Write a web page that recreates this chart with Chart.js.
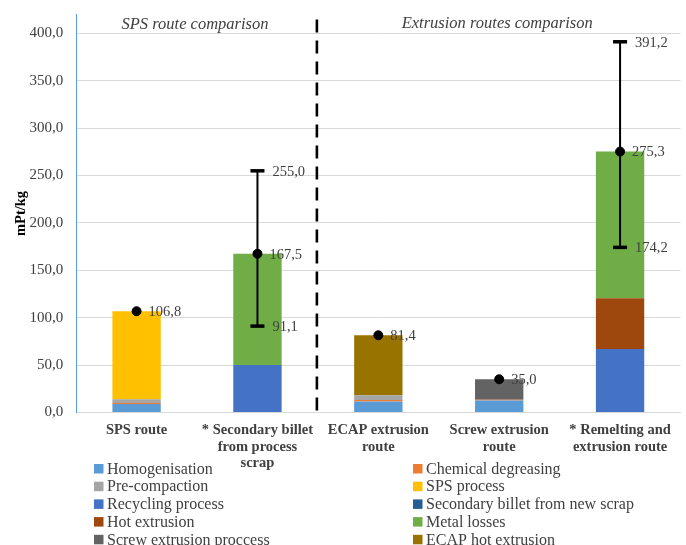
<!DOCTYPE html>
<html>
<head>
<meta charset="utf-8">
<script src="https://cdn.jsdelivr.net/npm/chart.js@4.4.1/dist/chart.umd.min.js"></script>
<style>
  html, body { margin: 0; padding: 0; background: #fff; }
  #wrap { position: relative; width: 686px; height: 545px; }
</style>
</head>
<body>
<div id="wrap"><canvas id="impactChart"></canvas></div>
<script>
// categories (multi-line axis labels)
const routes = [
  ['SPS route'],
  ['* Secondary billet', 'from process', 'scrap'],
  ['ECAP extrusion', 'route'],
  ['Screw extrusion', 'route'],
  ['* Remelting and', 'extrusion route']
];

// stacked contributions per route, mPt/kg
const homogenisation     = [8.8, null, 11.6, 12.5, null];
const chemicalDegreasing = [1.2, null, 1.5, 0.8, null];
const preCompaction      = [4.0, null, 5.0, null, null];
const spsProcess         = [92.8, null, null, null, null];
const recyclingProcess   = [null, 50.0, null, null, 67.0];
const billetNewScrap     = [null, null, null, null, null];
const hotExtrusion       = [null, null, null, null, 53.6];
const metalLosses        = [null, 117.5, null, null, 154.7];
const screwExtrusion     = [null, null, null, 21.7, null];
const ecapHotExtrusion   = [null, null, 63.3, null, null];

// totals and ranges
const totals  = [106.8, 167.5, 81.4, 35.0, 275.3];
const errLow  = [null, 91.1, null, null, 174.2];
const errHigh = [null, 255.0, null, null, 391.2];

const stages = ['Homogenisation', 'Chemical degreasing', 'Pre-compaction', 'SPS process',
  'Recycling process', 'Secondary billet from new scrap', 'Hot extrusion', 'Metal losses',
  'Screw extrusion proccess', 'ECAP hot extrusion'];
const stageValues = [homogenisation, chemicalDegreasing, preCompaction, spsProcess,
  recyclingProcess, billetNewScrap, hotExtrusion, metalLosses, screwExtrusion, ecapHotExtrusion];
const stageColors = ['#5B9BD5', '#ED7D31', '#A5A5A5', '#FFC000', '#4472C4',
  '#255E91', '#9E480E', '#70AD47', '#636363', '#997300'];

const sectionTitles = ['SPS route comparison', 'Extrusion routes comparison'];

const yMax = 420;
const yStep = 50;

const FONT = "'Liberation Serif', 'Times New Roman', serif";
const TEXT = '#404040';

const fmt = v => v.toFixed(1).replace('.', ',');

// Divider, error bars, value labels, section titles, legend
const overlay = {
  id: 'overlay',
  afterDatasetsDraw(chart) {
    const { ctx, chartArea, scales: { x, y } } = chart;
    ctx.save();

    // dashed divider between the two comparisons
    const xDiv = (x.getPixelForValue(1) + x.getPixelForValue(2)) / 2 - 1;
    ctx.strokeStyle = '#000';
    ctx.lineWidth = 2.6;
    ctx.setLineDash([13, 8]);
    ctx.beginPath();
    ctx.moveTo(xDiv, chartArea.top + 5);
    ctx.lineTo(xDiv, chartArea.bottom + 3);
    ctx.stroke();
    ctx.setLineDash([]);

    ctx.font = `14.5px ${FONT}`;
    ctx.textBaseline = 'middle';
    ctx.textAlign = 'left';

    // error bars
    errLow.forEach((lo, i) => {
      if (lo == null) return;
      const cx = x.getPixelForValue(i);
      const yLo = y.getPixelForValue(lo);
      const yHi = y.getPixelForValue(errHigh[i]);
      ctx.strokeStyle = '#000';
      ctx.lineWidth = 2;
      ctx.beginPath();
      ctx.moveTo(cx, yLo);
      ctx.lineTo(cx, yHi);
      ctx.stroke();
      ctx.lineWidth = 3.5;
      [yLo, yHi].forEach(py => {
        ctx.beginPath();
        ctx.moveTo(cx - 7, py);
        ctx.lineTo(cx + 7, py);
        ctx.stroke();
      });
      ctx.fillStyle = TEXT;
      ctx.fillText(fmt(lo), cx + 15, yLo + 1);
      ctx.fillText(fmt(errHigh[i]), cx + 15, yHi + 1);
    });

    // total labels
    const meta = chart.getDatasetMeta(stages.length);
    ctx.fillStyle = TEXT;
    totals.forEach((v, i) => {
      const pt = meta.data[i];
      ctx.fillText(fmt(v), pt.x + 12, pt.y + 1);
    });

    // section titles
    ctx.font = `italic 16.5px ${FONT}`;
    ctx.textAlign = 'center';
    const left = (x.getPixelForValue(0) + x.getPixelForValue(1)) / 2 - 2;
    const right = x.getPixelForValue(3) - 2;
    ctx.fillText(sectionTitles[0], left, chartArea.top + 10);
    ctx.fillText(sectionTitles[1], right, chartArea.top + 9);

    ctx.restore();
  },
  afterDraw(chart) {
    const { ctx } = chart;
    const cols = [94, 413];
    const rowTop = 468.5;
    const rowStep = 17.7;
    ctx.save();
    ctx.font = `16px ${FONT}`;
    ctx.textBaseline = 'middle';
    ctx.textAlign = 'left';
    stages.forEach((name, i) => {
      const bx = cols[i % 2];
      const by = rowTop + Math.floor(i / 2) * rowStep;
      ctx.fillStyle = stageColors[i];
      ctx.fillRect(bx, by - 4.5, 9.5, 9.5);
      ctx.fillStyle = TEXT;
      ctx.fillText(name, bx + 13, by + 1);
    });
    ctx.restore();
  }
};

const datasets = stages.map((name, i) => ({
  type: 'bar',
  label: name,
  data: stageValues[i],
  backgroundColor: stageColors[i],
  borderWidth: 0,
  stack: 'routes',
  categoryPercentage: 1,
  barPercentage: 0.4
}));

datasets.push({
  type: 'line',
  label: 'Total',
  data: totals,
  stack: 'total',
  showLine: false,
  pointRadius: 4.5,
  pointBackgroundColor: '#000',
  pointBorderColor: '#000',
  order: -1
});

new Chart(document.getElementById('impactChart'), {
  type: 'bar',
  data: { labels: routes, datasets },
  options: {
    responsive: true,
    maintainAspectRatio: false,
    animation: false,
    layout: { padding: { top: 7, right: 5, left: 13, bottom: 63 } },
    plugins: {
      legend: { display: false },
      tooltip: { enabled: false }
    },
    scales: {
      x: {
        stacked: true,
        grid: { drawOnChartArea: false, drawTicks: false },
        border: { color: '#d9d9d9' },
        ticks: {
          color: TEXT,
          padding: 10,
          maxRotation: 0,
          autoSkip: false,
          font: { family: FONT, size: 14.5, weight: 'bold', lineHeight: 1.14 }
        }
      },
      y: {
        stacked: true,
        min: 0,
        max: yMax,
        grid: { color: '#d9d9d9', drawTicks: false },
        border: { color: '#5B9BD5' },
        ticks: {
          stepSize: yStep,
          includeBounds: false,
          color: TEXT,
          padding: 13,
          font: { family: FONT, size: 15, lineHeight: 0.2 },
          callback: v => fmt(v)
        },
        title: {
          display: true,
          text: 'mPt/kg',
          color: '#000',
          font: { family: FONT, size: 14.5, weight: 'bold' },
          padding: { top: 0, bottom: -14 }
        }
      }
    }
  },
  plugins: [overlay]
});
</script>
</body>
</html>
